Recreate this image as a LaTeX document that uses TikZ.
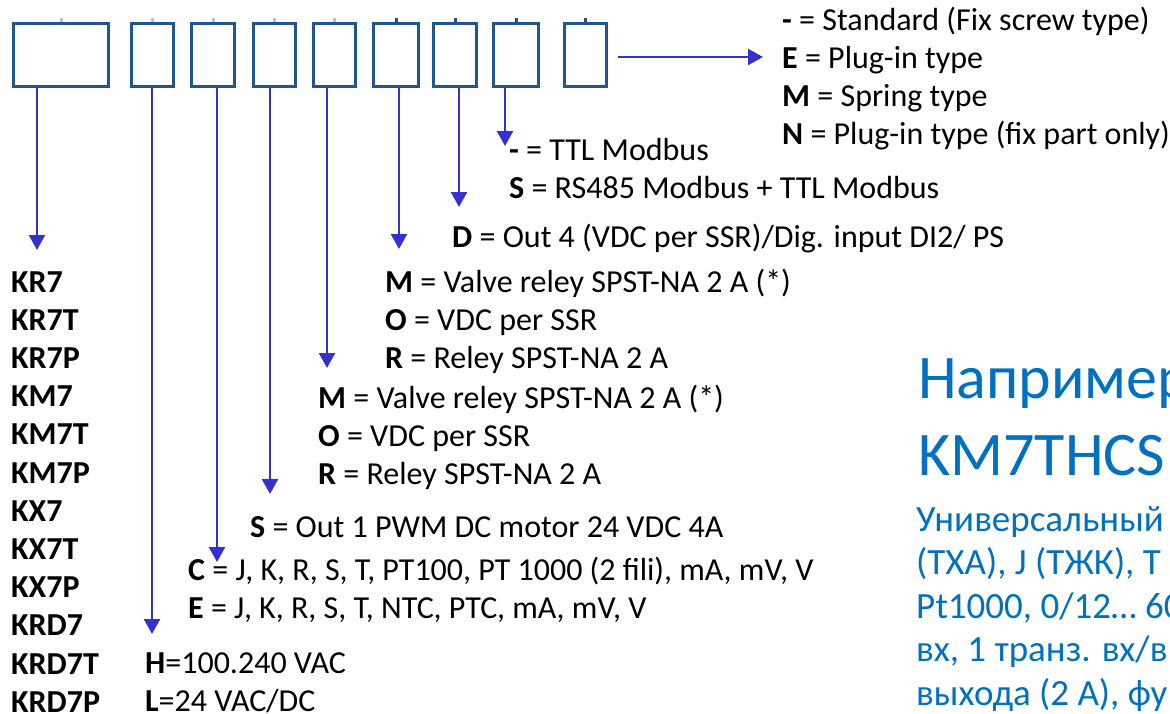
\documentclass[tikz,border=0pt]{standalone}
\usepackage{fontspec}
\setmainfont{Carlito}
\usetikzlibrary{arrows.meta}
\definecolor{boxblue}{HTML}{1F5591}
\definecolor{arrowblue}{HTML}{3333CC}
\definecolor{notecol}{HTML}{0070C0}
\begin{document}
\begin{tikzpicture}[x=1pt,y=-1pt,
    box/.style={draw=boxblue, line width=3.5pt, minimum height=63pt, inner sep=0pt},
    arr/.style={draw=arrowblue, line width=2.4pt, -{Triangle[width=16pt,length=15pt]}},
    txt/.style={anchor=base west, inner sep=0pt, font=\fontsize{32}{38}\selectfont},
    note/.style={txt, text=notecol, font=\fontsize{37}{44}\selectfont}]
  \clip (0,0) rectangle (1170,713);
  % Code boxes
  \node[box, minimum width=95pt] (b1) at (61,55) {};
  \node[box, minimum width=42pt] (b2) at (152.5,55) {};
  \node[box, minimum width=43pt] (b3) at (213,55) {};
  \node[box, minimum width=42pt] (b4) at (274.5,55) {};
  \node[box, minimum width=42pt] (b5) at (334.5,55) {};
  \node[box, minimum width=45pt] (b6) at (396,55) {};
  \node[box, minimum width=43pt] (b7) at (455,55) {};
  \node[box, minimum width=45pt] (b8) at (516,55) {};
  \node[box, minimum width=42pt] (b9) at (585.5,55) {};
  % Small marks on top
  \foreach \b in {b1,b2,b3,b4,b5}
    \draw[boxblue!35, line width=3pt] (\b.north) -- ++(0,-4);
  \foreach \b in {b6,b7,b8,b9}
    \draw[boxblue, line width=3pt] (\b.north) -- ++(0,-4);
  % Arrow ends
  \coordinate (e1) at (37,250);
  \coordinate (e2) at (152,634);
  \coordinate (e3) at (217,562);
  \coordinate (e4) at (270,494);
  \coordinate (e5) at (327,368);
  \coordinate (e6) at (399,249);
  \coordinate (e7) at (459,207);
  \coordinate (e8) at (505,146);
  \coordinate (e9) at (763,57);
  % Arrows
  \foreach \i in {1,...,8}
    \draw[arr] (b\i.south -| e\i) -- (e\i);
  \draw[arr] (b9.east |- e9) ++(10,0) -- (e9);
  % Model names
  \foreach \m [count=\i from 0] in {KR7,KR7T,KR7P,KM7,KM7T,KM7P,KX7,KX7T,KX7P,KRD7,KRD7T,KRD7P}
    \node[txt, font=\fontsize{32}{38}\selectfont\bfseries] (m\i) at (11,292+38.2*\i) {\m};
  % Supply
  \node[txt] (sH) at (145,673) {\textbf{H}=100.240 VAC};
  \node[txt] (sL) at (145,711) {\textbf{L}=24 VAC/DC};
  % Input
  \node[txt] (iC) at (188,580) {\textbf{C} = J, K, R, S, T, PT100, PT 1000 (2 fili), mA, mV, V};
  \node[txt] (iE) at (188,618) {\textbf{E} = J, K, R, S, T, NTC, PTC, mA, mV, V};
  \node[txt] (oS) at (250,537) {\textbf{S} = Out 1 PWM DC motor 24 VDC 4A};
  % Out 2
  \node[txt] (pM) at (318,408) {\textbf{M} = Valve reley SPST-NA 2 A (*)};
  \node[txt] (pO) at (318,446) {\textbf{O} = VDC per SSR};
  \node[txt] (pR) at (318,484) {\textbf{R} = Reley SPST-NA 2 A};
  % Out 3
  \node[txt] (qM) at (385,292) {\textbf{M} = Valve reley SPST-NA 2 A (*)};
  \node[txt] (qO) at (385,330) {\textbf{O} = VDC per SSR};
  \node[txt] (qR) at (385,368) {\textbf{R} = Reley SPST-NA 2 A};
  % Out 4
  \node[txt] (dD) at (452,247) {\textbf{D} = Out 4 (VDC per SSR)/Dig. input DI2/ PS};
  % Serial
  \node[txt] (cS) at (509,198) {\textbf{S} = RS485 Modbus + TTL Modbus};
  \node[txt] (cT) at (509,160) {\textbf{-} = TTL Modbus};
  % Terminals
  \node[txt] (tS) at (782,30) {\textbf{-} = Standard (Fix screw type)};
  \node[txt] (tE) at (782,68) {\textbf{E} = Plug-in type};
  \node[txt] (tM) at (782,106) {\textbf{M} = Spring type};
  \node[txt] (tN) at (782,144) {\textbf{N} = Plug-in type (fix part only)};
  % Example
  \node[note, font=\fontsize{62}{72}\selectfont] (x1) at (918,398) {Например};
  \node[note, font=\fontsize{62}{72}\selectfont] (x2) at (918,475) {KM7THCS};
  \foreach \t [count=\i from 0] in {Универсальный,{(ТХА), J (ТЖК), Т},{Pt1000, 0/12… 60},{вх, 1 транз. вх/в},{выхода (2 А), фу}}
    \node[note] (n\i) at (916,531+43.5*\i) {\t};
\end{tikzpicture}
\end{document}
